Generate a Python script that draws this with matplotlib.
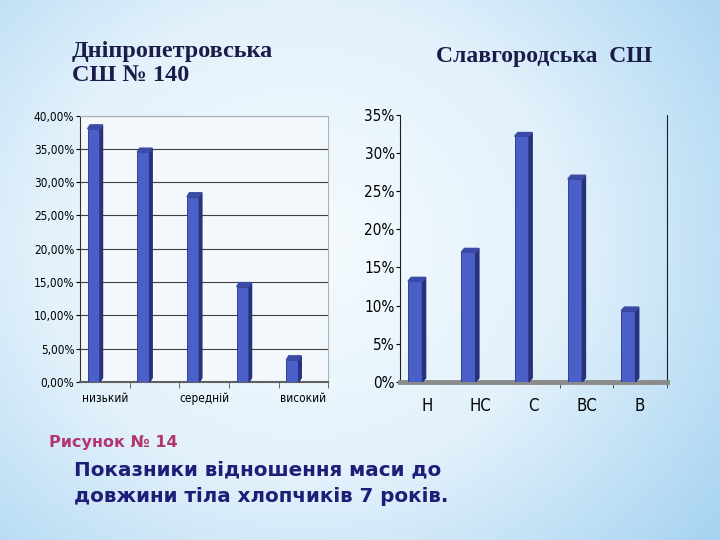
import numpy as np
import matplotlib.pyplot as plt
from matplotlib.patches import Polygon
from matplotlib.colors import LinearSegmentedColormap

# data
left_cats = ["низький", "нижче середнього", "середній", "вище середнього", "високий"]
left_vals = [38.0, 34.5, 27.8, 14.3, 3.3]
left_ticks = ["0,00%", "5,00%", "10,00%", "15,00%", "20,00%", "25,00%", "30,00%", "35,00%", "40,00%"]

right_cats = ["Н", "НС", "С", "ВС", "В"]
right_vals = [13.2, 17.0, 32.2, 26.6, 9.3]
right_ticks = ["0%", "5%", "10%", "15%", "20%", "25%", "30%", "35%"]

FRONT = "#4b5fc9"
SIDE = "#27327a"
TOP = "#3a4aa6"
NARROW = ["Liberation Sans Narrow", "DejaVu Sans"]

fig = plt.figure(figsize=(7.2, 5.4), dpi=100)

# background gradient
bg = fig.add_axes([0, 0, 1, 1], zorder=-10)
yy, xx = np.mgrid[0:1:270j, 0:1:360j]
r = np.sqrt(((xx - 0.42) / 0.75) ** 2 + ((yy - 0.45) / 0.9) ** 2)
cmap = LinearSegmentedColormap.from_list("bg", ["#f6fbfe", "#e2f1fb", "#a6d3f1"])
bg.imshow(np.clip(r, 0, 1), cmap=cmap, aspect="auto", extent=[0, 1, 0, 1], origin="upper")
bg.axis("off")


def draw_bars(ax, vals, width, offset, dx, dy):
    x = np.arange(len(vals)) + offset
    ax.bar(x, vals, width, color=FRONT, edgecolor=SIDE, linewidth=0.6, zorder=3)
    for xi, v in zip(x, vals):
        r = xi + width / 2
        l = xi - width / 2
        ax.add_patch(Polygon([(r, 0), (r + dx, dy), (r + dx, v + dy), (r, v)],
                             closed=True, color=SIDE, zorder=3))
        ax.add_patch(Polygon([(l, v), (l + dx, v + dy), (r + dx, v + dy), (r, v)],
                             closed=True, color=TOP, zorder=3))


# left chart
ax1 = fig.add_axes([0.111, 0.293, 0.345, 0.493])
ax1.set_facecolor("#f3f8fc")
ax1.set_xlim(-0.5, 4.5)
ax1.set_ylim(0, 40)
ax1.set_yticks(np.arange(0, 41, 5))
ax1.set_yticklabels(left_ticks, family=NARROW, fontstretch="condensed", fontsize=8.5)
ax1.grid(axis="y", color="#404040", linewidth=0.8, zorder=0)
draw_bars(ax1, left_vals, 0.25, -0.22, 0.05, 0.6)
ax1.set_xticks([0, 2, 4])
ax1.set_xticklabels([left_cats[0], left_cats[2], left_cats[4]], family=NARROW,
                    fontstretch="condensed", fontsize=8.5)
ax1.set_xticks([0.5, 1.5, 2.5, 3.5, 4.5], minor=True)
ax1.tick_params(axis="x", which="major", length=0, pad=7)
ax1.tick_params(axis="x", which="minor", length=4, color="#555555")
ax1.tick_params(axis="y", length=3, pad=1)
for s in ["top", "right"]:
    ax1.spines[s].set_color("#b0b0b0")
ax1.spines["left"].set_color("#303030")
ax1.spines["bottom"].set_color("#606060")
ax1.spines["bottom"].set_linewidth(1.5)

# right chart
ax2 = fig.add_axes([0.556, 0.293, 0.37, 0.494])
ax2.patch.set_alpha(0)
ax2.set_xlim(-0.5, 4.5)
ax2.set_ylim(0, 35)
ax2.set_yticks(np.arange(0, 36, 5))
ax2.set_yticklabels(right_ticks, family=NARROW, fontstretch="condensed", fontsize=11)
draw_bars(ax2, right_vals, 0.27, -0.22, 0.06, 0.5)
ax2.set_xticks(range(len(right_cats)))
ax2.set_xticks([2.5, 3.5, 4.5], minor=True)
ax2.set_xticklabels(right_cats, family=NARROW, fontstretch="condensed", fontsize=12)
ax2.tick_params(axis="x", which="major", length=0, pad=11)
ax2.tick_params(axis="x", which="minor", length=4, color="#333333")
ax2.tick_params(axis="y", length=3, pad=1)
ax2.spines["top"].set_visible(False)
ax2.spines["right"].set_color("#202020")
ax2.spines["left"].set_color("#202020")
ax2.spines["bottom"].set_color("#8a8a8a")
ax2.spines["bottom"].set_linewidth(3.5)

# titles and caption
serif = ["Liberation Serif", "DejaVu Serif"]
fig.text(0.1, 0.882, "Дніпропетровська\nСШ № 140", family=serif,
         fontsize=17.5, fontweight="bold", color="#1c1c4a", va="center", linespacing=1.2)
fig.text(0.605, 0.895, "Славгородська  СШ", family=serif,
         fontsize=17, fontweight="bold", color="#1c1c4a", va="center")
fig.text(0.068, 0.181, "Рисунок № 14", family=["DejaVu Sans"], fontsize=11.5,
         fontweight="bold", color="#b2366f", va="center")
fig.text(0.103, 0.105, "Показники відношення маси до\nдовжини тіла хлопчиків 7 років.",
         family=["DejaVu Sans"], fontsize=14.3, fontweight="bold", color="#1e1e78",
         va="center", linespacing=1.45)

fig.savefig("out.png", dpi=100)
